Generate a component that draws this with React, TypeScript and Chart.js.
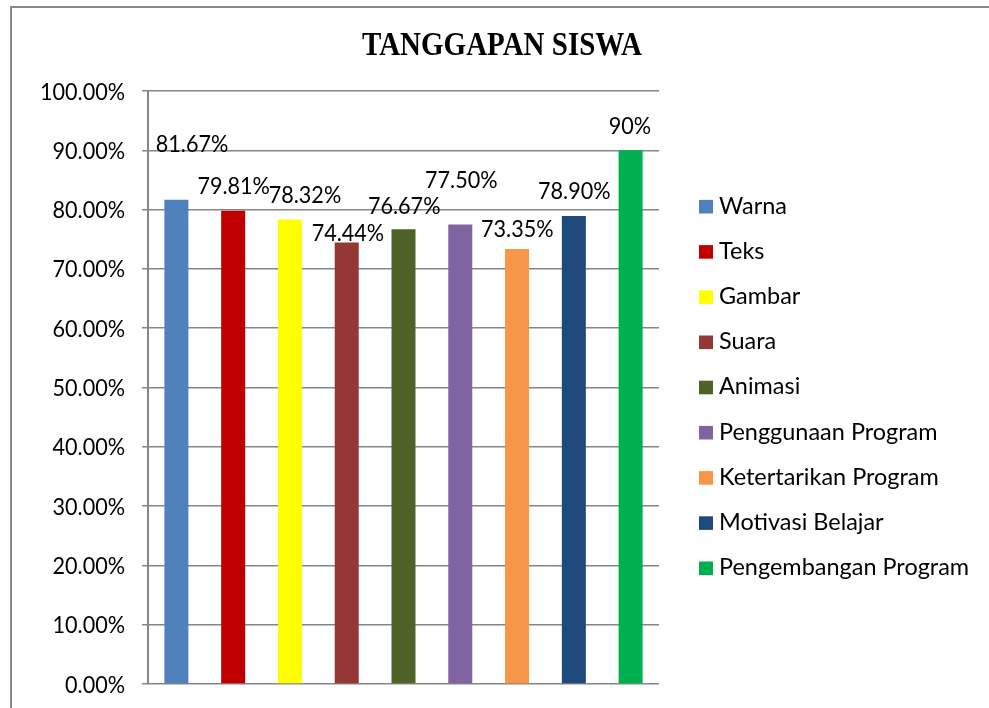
import { useEffect, useRef } from 'react';
import { Chart, registerables } from 'chart.js';

Chart.register(...registerables);

// ---------- data ----------
const chartTitle = 'TANGGAPAN SISWA';
const categories = [''];
const seriesNames = [
  'Warna',
  'Teks',
  'Gambar',
  'Suara',
  'Animasi',
  'Penggunaan Program',
  'Ketertarikan Program',
  'Motivasi Belajar',
  'Pengembangan Program',
];
const seriesValues = [0.8167, 0.7981, 0.7832, 0.7444, 0.7667, 0.775, 0.7335, 0.789, 0.9];
const valueLabels = ['81.67%', '79.81%', '78.32%', '74.44%', '76.67%', '77.50%', '73.35%', '78.90%', '90%'];
const seriesColors = ['#4F81BD', '#C00000', '#FFFF00', '#953735', '#4F6228', '#8064A2', '#F79646', '#1F497D', '#00B050'];
const yMin = 0;
const yMax = 1;
const yStep = 0.1;

// ---------- style ----------
const labelNudges = [
  [15.6, -56],
  [0.5, -25.7],
  [15, -25],
  [1.2, -10],
  [0.7, -24.3],
  [1, -45.4],
  [0.2, -20.5],
  [0.4, -26.1],
  [-0.8, -25.3],
];
const SANS = 'Lato, "Noto Sans", sans-serif';
const SANS_SIZE = 24;
const SANS_SX = 0.9;
const LEGEND_SIZE = 23;
const LEGEND_SX = 1.02;
const CAP = 0.7165;
const GRID = '#868686';

function drawText(
  ctx: CanvasRenderingContext2D,
  text: string,
  x: number,
  y: number,
  align: CanvasTextAlign,
  font: string,
  sx: number,
  sy: number,
  color = '#000000'
) {
  ctx.save();
  ctx.font = font;
  ctx.fillStyle = color;
  ctx.textAlign = align;
  ctx.textBaseline = 'alphabetic';
  ctx.translate(x, y);
  ctx.scale(sx, sy);
  ctx.fillText(text, 0, 0);
  ctx.restore();
}

const decorPlugin = {
  id: 'decor',
  beforeDraw(chart: any) {
    const ctx = chart.ctx as CanvasRenderingContext2D;
    ctx.save();
    ctx.fillStyle = '#ffffff';
    ctx.fillRect(0, 0, chart.width, chart.height);
    ctx.strokeStyle = '#8a8a8a';
    ctx.lineWidth = 2;
    ctx.strokeRect(11, 7, chart.width + 20, chart.height + 20);
    ctx.restore();
  },
  afterDraw(chart: any) {
    const ctx = chart.ctx as CanvasRenderingContext2D;
    const area = chart.chartArea;
    // title
    drawText(ctx, chartTitle, 502, 55, 'center', 'bold 29px "Liberation Serif", "Times New Roman", serif', 1, 1.13);
    // y tick labels
    const ys = chart.scales.y;
    const capT = SANS_SIZE * CAP;
    ys.ticks.forEach((t: any) => {
      const py = ys.getPixelForValue(t.value);
      const txt = (t.value * 100).toFixed(2) + '%';
      drawText(ctx, txt, area.left - 23, py + capT / 2, 'right', `${SANS_SIZE}px ${SANS}`, SANS_SX, 1);
    });
    // data labels
    chart.data.datasets.forEach((ds: any, i: number) => {
      const meta = chart.getDatasetMeta(i);
      const el = meta.data[0];
      if (!el) return;
      const [dx, dy] = labelNudges[i];
      drawText(ctx, valueLabels[i], el.x + dx, el.y + dy + capT / 2, 'center', `${SANS_SIZE}px ${SANS}`, SANS_SX, 1);
    });
    // legend
    chart.data.datasets.forEach((ds: any, i: number) => {
      const cy = 206.7 + 45.2 * i;
      ctx.save();
      ctx.fillStyle = ds.backgroundColor;
      ctx.fillRect(699, cy - 6.8, 14, 13.6);
      ctx.restore();
      drawText(ctx, ds.label, 719, cy + 6.8, 'left', `${LEGEND_SIZE}px ${SANS}`, LEGEND_SX, 1);
    });
  },
};

export default function App() {
  const ref = useRef<HTMLCanvasElement | null>(null);
  useEffect(() => {
    if (!ref.current) return;
    const chart = new Chart(ref.current, {
      type: 'bar',
      data: {
        labels: categories,
        datasets: seriesNames.map((name, i) => ({
          label: name,
          data: [seriesValues[i]],
          backgroundColor: seriesColors[i],
          borderWidth: 0,
          categoryPercentage: 1,
          barPercentage: 0.4227,
        })),
      },
      options: {
        animation: false,
        responsive: true,
        maintainAspectRatio: false,
        devicePixelRatio: 1,
        layout: { padding: { top: 91, bottom: 24, left: 0, right: 330 } },
        plugins: {
          legend: { display: false },
          title: { display: false },
          tooltip: { enabled: false },
        },
        scales: {
          x: { display: false },
          y: {
            min: yMin,
            max: yMax,
            ticks: { display: false, stepSize: yStep },
            grid: { color: GRID, lineWidth: 1.5, drawTicks: true, tickLength: 6 },
            border: { display: true, color: GRID, width: 2 },
            afterFit(scale: any) {
              scale.width = 148;
            },
          },
        },
      },
      plugins: [decorPlugin],
    });
    return () => chart.destroy();
  }, []);
  return (
    <div style={{ position: 'fixed', left: 0, top: 0, width: 989, height: 708 }}>
      <canvas ref={ref} />
    </div>
  );
}
